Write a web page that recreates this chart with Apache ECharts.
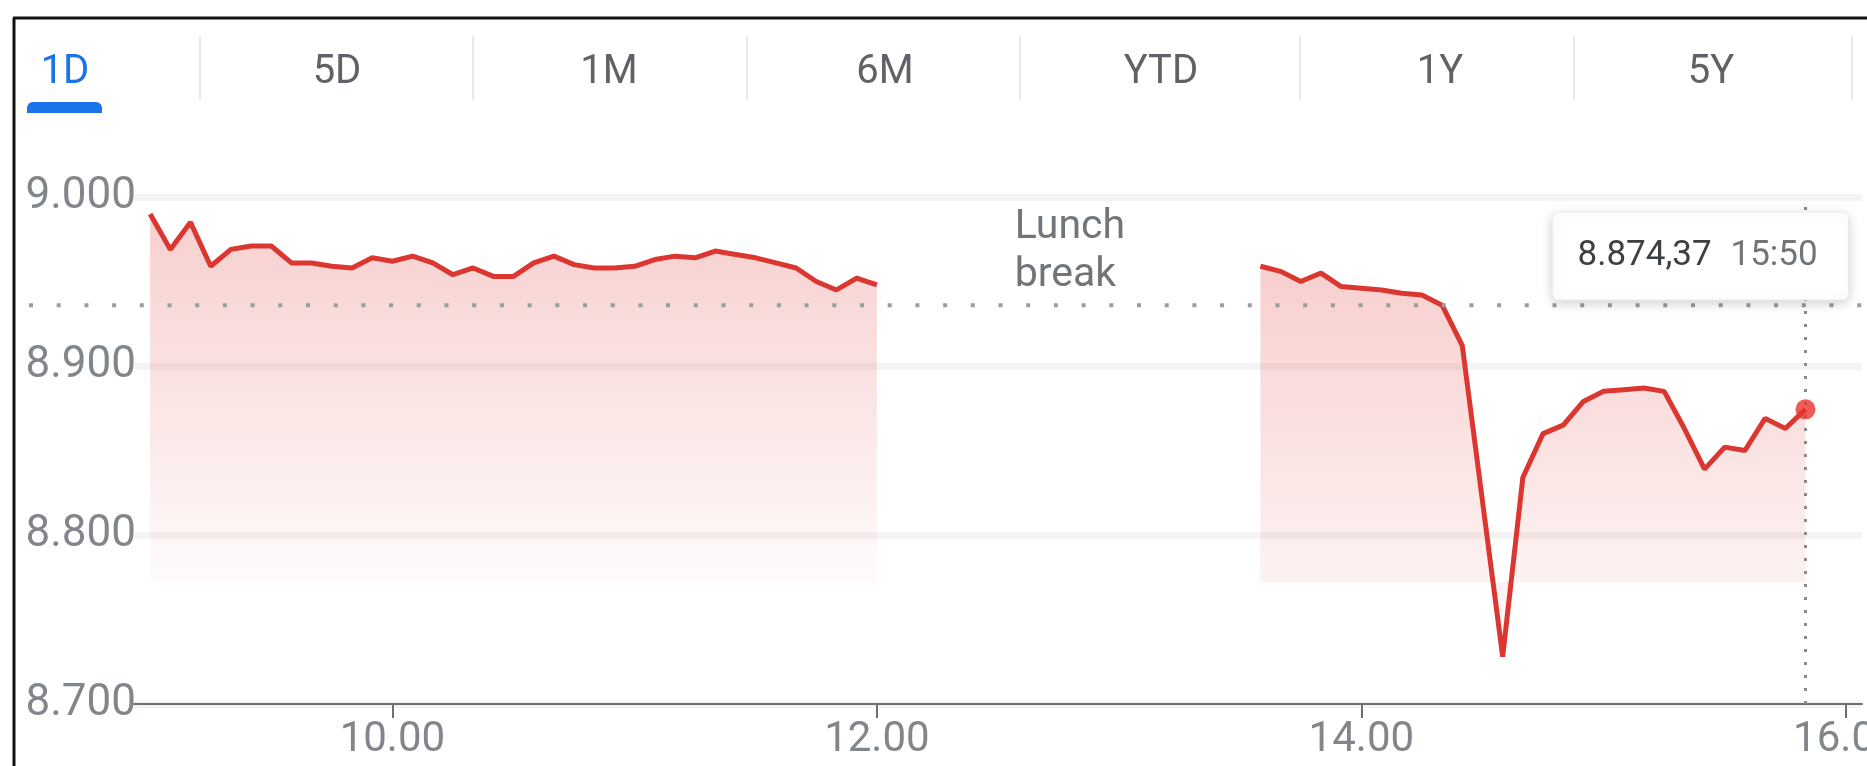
<!DOCTYPE html>
<html><head><meta charset="utf-8">
<script src="https://cdn.jsdelivr.net/npm/echarts@6/dist/echarts.min.js"></script>
<style>html,body{margin:0;padding:0;background:#fff;overflow:hidden;}#c{width:1867px;height:766px;}</style>
</head><body><div id="c"></div>
<script>
// ---- data ----
const tabLabels = ['1D', '5D', '1M', '6M', 'YTD', '1Y', '5Y'];
const activeTab = '1D';

const morningTimes = ['09:00','09:05','09:10','09:15','09:20','09:25','09:30','09:35','09:40','09:45','09:50','09:55',
  '10:00','10:05','10:10','10:15','10:20','10:25','10:30','10:35','10:40','10:45','10:50','10:55',
  '11:00','11:05','11:10','11:15','11:20','11:25','11:30','11:35','11:40','11:45','11:50','11:55','12:00'];
const morningValues = [8990,8969,8985,8959,8969,8971,8971,8961,8961,8959,8958,8964,
  8962,8965,8961,8954,8958,8953,8953,8961,8965,8960,8958,8958,
  8959,8963,8965,8964,8968,8966,8964,8961,8958,8950,8945,8952,8948];

const afternoonTimes = ['13:35','13:40','13:45','13:50','13:55',
  '14:00','14:05','14:10','14:15','14:20','14:25','14:30','14:35','14:40','14:45','14:50','14:55',
  '15:00','15:05','15:10','15:15','15:20','15:25','15:30','15:35','15:40','15:45','15:50'];
const afternoonValues = [8959,8956,8950,8955,8947,
  8946,8945,8943,8942,8936,8912,8820,8728,8834,8860,8865,8879,
  8885,8886,8887,8885,8863,8839,8852,8850,8869,8863,8874.37];

const previousClose = 8936;
const fillBase = 8772;
const yTickValues = [8700, 8800, 8900, 9000];
const xTickLabels = ['10:00', '12:00', '14:00', '16:00'];
const xRange = ['08:56', '16:04'];
const lunchLabel = ['Lunch', 'break'];

// ---- helpers ----
function toMin(t) { const p = t.split(':').map(Number); return p[0] * 60 + p[1]; }
function fmtTime(m, sep) { const h = Math.floor(m / 60), mm = m % 60; return h + sep + String(mm).padStart(2, '0'); }
function fmtThousands(v) { return String(Math.round(v)).replace(/\B(?=(\d{3})+(?!\d))/g, '.'); }
function fmtPrice(v) { const s = v.toFixed(2).split('.'); return s[0].replace(/\B(?=(\d{3})+(?!\d))/g, '.') + ',' + s[1]; }

const morningData = morningTimes.map((t, i) => [toMin(t), morningValues[i]]);
const afternoonData = afternoonTimes.map((t, i) => [toMin(t), afternoonValues[i]]);
const lastTime = afternoonTimes[afternoonTimes.length - 1];
const lastValue = afternoonValues[afternoonValues.length - 1];

const RED = '#dc3630';
const areaGrad = {
  type: 'linear', x: 0, y: 0, x2: 0, y2: 1,
  colorStops: [{ offset: 0, color: 'rgba(220,54,48,0.34)' }, { offset: 1, color: 'rgba(220,54,48,0.03)' }]
};
const FONT = 'Roboto';

const chart = echarts.init(document.getElementById('c'));
chart.setOption({
  animation: false,
  backgroundColor: '#ffffff',
  grid: { left: 134, right: 5, top: 197, bottom: 62, containLabel: false, outerBoundsMode: 'none' },
  xAxis: {
    type: 'value', min: toMin(xRange[0]), max: toMin(xRange[1]),
    axisLine: { show: true, lineStyle: { color: '#6f6f6f', width: 2 } },
    axisTick: { show: true, customValues: xTickLabels.map(toMin), length: 14, lineStyle: { color: '#6f6f6f', width: 2 } },
    axisLabel: { customValues: xTickLabels.map(toMin), formatter: v => fmtTime(v, '.'), fontSize: 42, fontFamily: FONT, color: '#80868b', margin: 15, hideOverlap: false },
    splitLine: { show: false }
  },
  yAxis: {
    type: 'value', min: yTickValues[0], max: yTickValues[yTickValues.length - 1], interval: 100,
    axisLine: { show: false }, axisTick: { show: false },
    axisLabel: { formatter: v => fmtThousands(v), fontSize: 44, fontFamily: FONT, color: '#80868b', margin: -2 },
    splitLine: { show: true, lineStyle: { color: '#f4f4f4', width: 7 } }
  },
  series: [
    { type: 'line', data: morningData, showSymbol: false, symbol: 'none',
      lineStyle: { color: RED, width: 5 }, areaStyle: { origin: fillBase, color: areaGrad }, z: 3 },
    { type: 'line', data: afternoonData, showSymbol: false, symbol: 'none',
      lineStyle: { color: RED, width: 5 }, areaStyle: { origin: fillBase, color: areaGrad }, z: 3 },
    { type: 'scatter', data: [[toMin(lastTime), lastValue]], symbolSize: 20, itemStyle: { color: '#e8352c' }, z: 6,
      markLine: { silent: true, symbol: ['none', 'none'], label: { show: false },
        lineStyle: { type: [3, 10], color: '#8a8a8a', width: 3 },
        data: [{ xAxis: toMin(lastTime) }] } }
  ]
});

// ---- overlay graphics positioned through the chart's own scales ----
const yPrev = chart.convertToPixel({ gridIndex: 0 }, [toMin(xRange[0]), previousClose])[1];
const xLast = chart.convertToPixel({ gridIndex: 0 }, [toMin(lastTime), lastValue])[0];
const xLunchA = chart.convertToPixel({ gridIndex: 0 }, [toMin(morningTimes[morningTimes.length - 1]), fillBase])[0];
const xLunchB = chart.convertToPixel({ gridIndex: 0 }, [toMin(afternoonTimes[0]), fillBase])[0];
const lunchMid = (xLunchA + xLunchB) / 2;

const tabCenters = [65, 337, 609, 885, 1161, 1440, 1711];
const sepX = [200, 473, 747, 1020, 1300, 1574, 1852];
const g = [];
// frame
g.push({ type: 'line', shape: { x1: 13, y1: 18, x2: 1867, y2: 18 }, style: { stroke: '#111', lineWidth: 3 }, z: 200 });
g.push({ type: 'line', shape: { x1: 14, y1: 18, x2: 14, y2: 766 }, style: { stroke: '#111', lineWidth: 3 }, z: 200 });
// tabs
tabLabels.forEach((t, i) => {
  g.push({ type: 'text', x: tabCenters[i], y: 73, style: { text: t, fontSize: 40, fontFamily: FONT,
    fill: t === activeTab ? '#1a73e8' : '#5f6368', align: 'center', verticalAlign: 'middle' }, z: 50 });
});
sepX.forEach(x => g.push({ type: 'line', shape: { x1: x, y1: 36, x2: x, y2: 100 }, style: { stroke: '#e8e8e8', lineWidth: 2 }, z: 50 }));
g.push({ type: 'rect', shape: { x: 27, y: 102, width: 75, height: 11, r: [6, 6, 0, 0] }, style: { fill: '#1a73e8' }, z: 50 });
// previous close dotted line
g.push({ type: 'line', shape: { x1: 29, y1: yPrev, x2: 1862, y2: yPrev },
  style: { stroke: '#9c9c9c', lineWidth: 4, lineDash: [4, 23.7] }, z: 20 });
// lunch break label
g.push({ type: 'text', x: lunchMid - 54, y: 252, style: { text: lunchLabel.join('\n'), fontSize: 41, lineHeight: 48,
  fontFamily: FONT, fill: '#70757a', align: 'left', verticalAlign: 'middle' }, z: 30 });
// tooltip box
g.push({ type: 'rect', shape: { x: xLast - 253, y: 212, width: 296, height: 88, r: 6 },
  style: { fill: '#ffffff', stroke: '#ececec', lineWidth: 1, shadowBlur: 12, shadowColor: 'rgba(0,0,0,0.18)', shadowOffsetY: 3 }, z: 100 });
g.push({ type: 'text', x: xLast - 228, y: 256, style: { text: fmtPrice(lastValue), fontSize: 35, fontFamily: FONT,
  fill: '#3c4043', align: 'left', verticalAlign: 'middle' }, z: 101 });
g.push({ type: 'text', x: xLast - 75, y: 256, style: { text: lastTime, fontSize: 35, fontFamily: FONT,
  fill: '#70757a', align: 'left', verticalAlign: 'middle' }, z: 101 });

chart.setOption({ graphic: g });
</script>
</body></html>
